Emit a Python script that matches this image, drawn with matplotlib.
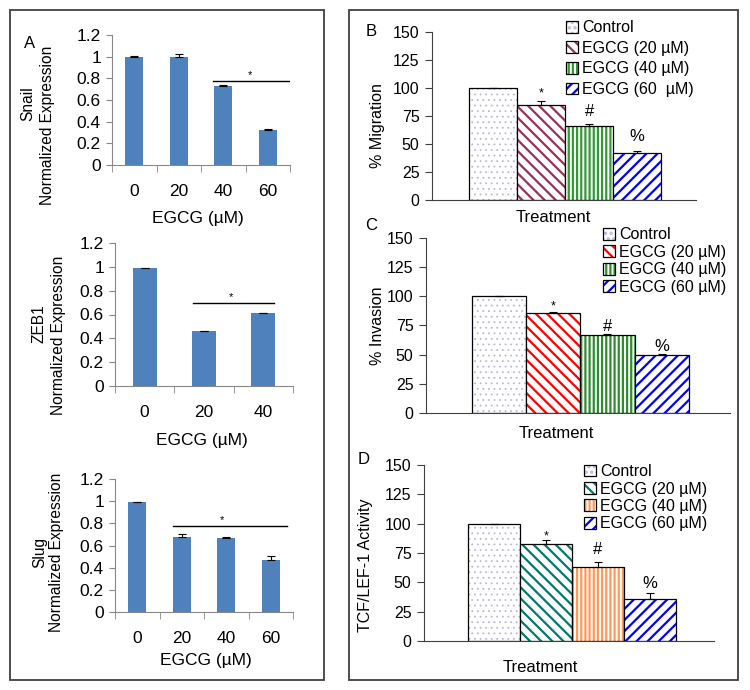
import matplotlib
matplotlib.use('Agg')
import matplotlib.pyplot as plt
from matplotlib.patches import Rectangle, Patch

plt.rcParams['font.family'] = ['Liberation Sans', 'DejaVu Sans']
plt.rcParams['hatch.linewidth'] = 1.6

# ---- data (left column: qPCR) ----
doses_snail = ['0', '20', '40', '60']
snail = [1.0, 1.0, 0.73, 0.32]
snail_err = [0.004, 0.02, 0.004, 0.008]

doses_zeb1 = ['0', '20', '40']
zeb1 = [0.99, 0.46, 0.61]
zeb1_err = [0.003, 0.003, 0.003]

doses_slug = ['0', '20', '40', '60']
slug = [0.99, 0.68, 0.67, 0.47]
slug_err = [0.003, 0.02, 0.004, 0.035]

# ---- data (right column: assays) ----
groups = ['Control', 'EGCG (20 \u00b5M)', 'EGCG (40 \u00b5M)', 'EGCG (60 \u00b5M)']
groups_b = ['Control', 'EGCG (20 \u00b5M)', 'EGCG (40 \u00b5M)', 'EGCG (60  \u00b5M)']
migration = [100, 84.5, 66, 42]
migration_err = [0, 4, 1.5, 1.5]
invasion = [100, 86, 67, 50]
invasion_err = [0, 0.5, 0.8, 0.3]
tcf = [100, 82.5, 63, 35.5]
tcf_err = [0, 4, 4.5, 5.5]
marks = ['', '*', '#', '%']

fig = plt.figure(figsize=(7.5, 6.9), dpi=100)

# outer boxes
for (x0, w) in [(10, 314), (349, 389)]:
    fig.patches.append(Rectangle((x0 / 750, 10 / 690), w / 750, 670 / 690,
                                 transform=fig.transFigure, fill=False,
                                 edgecolor='#404040', linewidth=1.3))


def px(x, y):
    return x / 750, 1 - y / 690


def left_panel(rect, doses, vals, errs, gene, bracket, star_x, gene_xy, ne_xy, xlab_xy):
    ax = fig.add_axes(rect)
    x = list(range(len(doses)))
    ax.bar(x, vals, width=0.4, color='#4F81BD')
    ax.errorbar(x, vals, yerr=[[0] * len(errs), errs], fmt='none',
                ecolor='black', elinewidth=0.8, capsize=3, capthick=0.8)
    ax.set_xlim(-0.5, len(doses) - 0.5)
    ax.set_ylim(0, 1.2)
    ax.set_yticks([0, 0.2, 0.4, 0.6, 0.8, 1.0, 1.2])
    ax.set_yticklabels(['0', '0.2', '0.4', '0.6', '0.8', '1', '1.2'])
    ax.set_xticks(x)
    ax.set_xticklabels(doses)
    ax.set_xticks([i - 0.5 for i in range(len(doses) + 1)], minor=True)
    ax.tick_params(axis='x', which='major', length=0, pad=14, labelsize=12.5)
    ax.tick_params(axis='x', which='minor', length=5, direction='out', color='#888888')
    ax.tick_params(axis='y', length=4, direction='out', color='#888888', pad=4, labelsize=12.5)
    for s in ['top', 'right']:
        ax.spines[s].set_visible(False)
    for s in ['left', 'bottom']:
        ax.spines[s].set_color('#888888')
    ax.plot([bracket[0], bracket[1]], [bracket[2], bracket[2]], color='black', lw=1)
    ax.text(star_x, bracket[2] + 0.005, '*', ha='center', va='bottom', fontsize=8)
    # two-line y label, positioned like the original
    fig.text(*px(*gene_xy), gene, rotation=90, ha='center', va='center', fontsize=11.2)
    fig.text(*px(*ne_xy), 'Normalized Expression', rotation=90, ha='center', va='center',
             fontsize=11.2)
    ax.set_xlabel('EGCG (\u00b5M)', fontsize=12.5)
    ax.xaxis.set_label_coords(*xlab_xy)
    return ax


left_panel([112 / 750, 1 - 165 / 690, 178 / 750, 130 / 690], doses_snail, snail, snail_err,
           'Snail', (1.77, 3.5, 0.775), 2.6, (27.5, 104), (47.5, 125), (0.48, -0.35))
left_panel([115 / 750, 1 - 386 / 690, 178 / 750, 143 / 690], doses_zeb1, zeb1, zeb1_err,
           'ZEB1', (0.82, 2.18, 0.70), 1.45, (39, 324), (58, 335), (0.49, -0.33))
left_panel([115 / 750, 1 - 612 / 690, 178 / 750, 133 / 690], doses_slug, slug, slug_err,
           'Slug', (0.80, 3.37, 0.776), 1.9, (40, 552), (57, 552), (0.51, -0.31))

fig.text(*px(30, 43), 'A', fontsize=12, ha='center', va='center')


def right_panel(rect, vals, errs, labels, colors, hatches, center, width,
                ylabel, ylab_xy, xlab_xy, leg_xy, leg_sp, mark_y):
    ax = fig.add_axes(rect)
    x = [center + (i - 1.5) * width for i in range(4)]
    for i in range(4):
        lw_h = 0.6 if i == 0 else 1.6
        with plt.rc_context({'hatch.linewidth': lw_h}):
            ax.bar(x[i], vals[i], width=width, facecolor='white', edgecolor=colors[i],
                   hatch=hatches[i], linewidth=0)
        ax.bar(x[i], vals[i], width=width, fill=False, edgecolor='black', linewidth=0.9)
    ax.errorbar(x, vals, yerr=[[0] * 4, errs], fmt='none', ecolor='black',
                elinewidth=0.8, capsize=3, capthick=0.8)
    for i in range(1, 4):
        fs = 9 if marks[i] == '*' else 12
        ax.text(x[i], mark_y[i], marks[i], ha='center', va='bottom', fontsize=fs)
    ax.set_xlim(0, 1)
    ax.set_ylim(0, 150)
    ax.set_yticks([0, 25, 50, 75, 100, 125, 150])
    ax.set_xticks([])
    ax.tick_params(axis='y', length=5, direction='out', color='#404040', pad=4, labelsize=11.5)
    for s in ['top', 'right']:
        ax.spines[s].set_visible(False)
    for s in ['left', 'bottom']:
        ax.spines[s].set_color('#404040')
    ax.set_ylabel(ylabel, fontsize=11.5)
    ax.yaxis.set_label_coords(*ylab_xy)
    ax.set_xlabel('Treatment', fontsize=12)
    ax.xaxis.set_label_coords(*xlab_xy)
    handles = []
    for i in range(4):
        lw_h = 0.6 if i == 0 else 1.6
        with plt.rc_context({'hatch.linewidth': lw_h}):
            p1 = Patch(facecolor='white', edgecolor=colors[i], hatch=hatches[i], linewidth=0)
        p2 = Patch(fill=False, edgecolor='black', linewidth=0.9)
        handles.append((p1, p2))
    ax.legend(handles, labels, loc='upper left', bbox_to_anchor=leg_xy, frameon=False,
              fontsize=11.5, handlelength=0.75, handleheight=0.75, handletextpad=0.25,
              labelspacing=leg_sp, borderpad=0, borderaxespad=0)
    return ax


dots = '#b8b8dc'
right_panel([432 / 750, 1 - 200 / 690, 264 / 750, 168 / 690], migration, migration_err, groups_b,
            [dots, '#993355', '#339933', '#0000ff'], ['...', '\\\\\\', '||||', '///'],
            0.504, 0.182, '% Migration', (-0.178, 0.446), (0.458, -0.06), (0.508, 1.07), 0.35,
            [0, 89.5, 72, 50])
right_panel([426 / 750, 1 - 413 / 690, 304 / 750, 175 / 690], invasion, invasion_err, groups,
            [dots, '#ff0000', '#2e8b2e', '#0000ff'], ['...', '\\\\\\', '||||', '///'],
            0.508, 0.178, '% Invasion', (-0.135, 0.5), (0.43, -0.074), (0.582, 1.06), 0.15,
            [0, 86.5, 67.5, 50.5])
right_panel([424 / 750, 1 - 641 / 690, 290 / 750, 176 / 690], tcf, tcf_err, groups,
            [dots, '#007a6e', '#ff9955', '#0000ff'], ['...', '\\\\\\', '||||', '///'],
            0.51, 0.179, 'TCF/LEF-1 Activity', (-0.176, 0.43), (0.40, -0.108), (0.552, 1.005), 0.15,
            [0, 84, 72, 43])

fig.text(*px(371, 31), 'B', fontsize=12, ha='center', va='center')
fig.text(*px(371, 226), 'C', fontsize=12, ha='center', va='center')
fig.text(*px(364, 459), 'D', fontsize=12, ha='center', va='center')

fig.savefig('out.png', dpi=100)
